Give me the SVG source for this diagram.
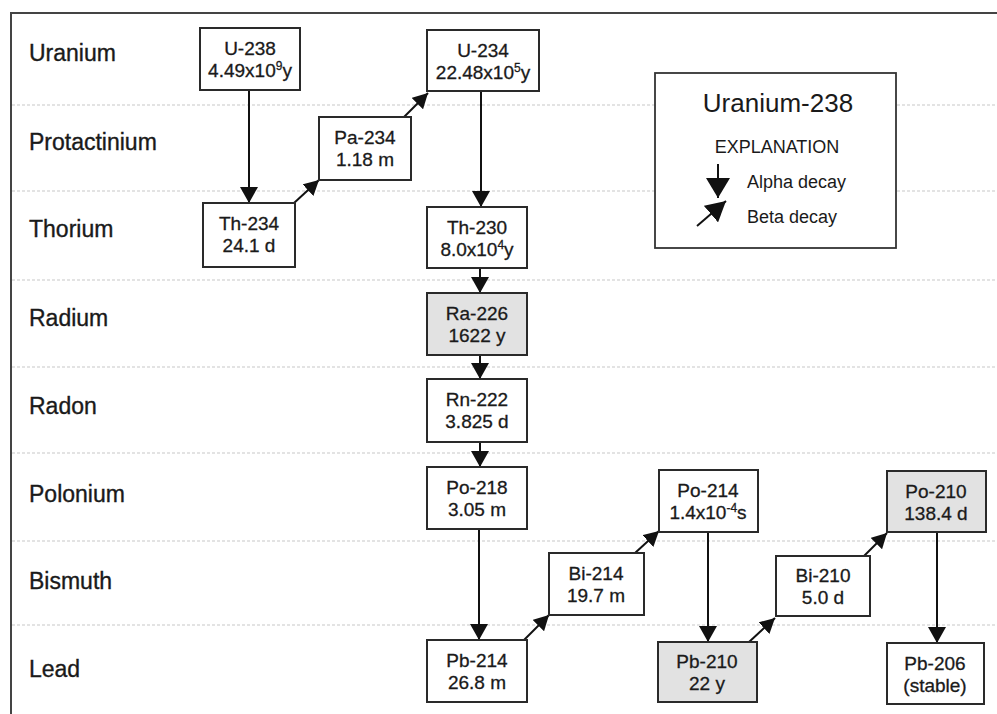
<svg xmlns="http://www.w3.org/2000/svg" width="997" height="714" viewBox="0 0 997 714">
<defs>
<style>
.row{font-family:"Liberation Sans",Arial,sans-serif;font-size:23px;fill:#1a1a1a;stroke:#1a1a1a;stroke-width:0.35}
.box{fill:#fff;stroke:#2a2a2a;stroke-width:2}
.gray{fill:#e2e2e2}
.t{font-family:"Liberation Sans",Arial,sans-serif;font-size:19px;fill:#1a1a1a;stroke:#1a1a1a;stroke-width:0.3;text-anchor:middle}
.sup{font-size:12px}
.sep{stroke:#c8c8c8;stroke-width:1.2;stroke-dasharray:3 2}
.alpha{stroke:#111;stroke-width:2;fill:none;marker-end:url(#ah)}
.beta{stroke:#111;stroke-width:2;fill:none;marker-end:url(#bh)}
.leg{font-family:"Liberation Sans",Arial,sans-serif;fill:#1a1a1a}
</style>
<marker id="ah" markerUnits="userSpaceOnUse" markerWidth="18" markerHeight="18" refX="16" refY="9" orient="auto">
<path d="M0,0 L16,9 L0,18 z" fill="#111"/>
</marker>
<marker id="bh" markerUnits="userSpaceOnUse" markerWidth="16" markerHeight="16" refX="15" refY="8" orient="auto">
<path d="M0,0 L15,8 L0,16 z" fill="#111"/>
</marker>
<marker id="lah" markerUnits="userSpaceOnUse" markerWidth="22" markerHeight="24" refX="20" refY="12" orient="auto">
<path d="M0,0 L20,12 L0,24 z" fill="#111"/>
</marker>
<marker id="lbh" markerUnits="userSpaceOnUse" markerWidth="22" markerHeight="22" refX="20" refY="11" orient="auto">
<path d="M0,0 L20,11 L0,22 z" fill="#111"/>
</marker>
</defs>
<rect x="0" y="0" width="997" height="714" fill="#fff"/>
<g id="frame">
<line x1="11" y1="13" x2="997" y2="13" stroke="#444" stroke-width="2"/>
<line x1="11" y1="12" x2="11" y2="714" stroke="#444" stroke-width="2"/>
</g>
<g id="separators">
<line class="sep" x1="12" y1="105" x2="997" y2="105"/>
<line class="sep" x1="12" y1="191" x2="997" y2="191"/>
<line class="sep" x1="12" y1="280" x2="997" y2="280"/>
<line class="sep" x1="12" y1="367" x2="997" y2="367"/>
<line class="sep" x1="12" y1="453" x2="997" y2="453"/>
<line class="sep" x1="12" y1="541" x2="997" y2="541"/>
<line class="sep" x1="12" y1="625" x2="997" y2="625"/>
</g>
<g id="row-labels">
<text class="row" x="29" y="61">Uranium</text>
<text class="row" x="29" y="150">Protactinium</text>
<text class="row" x="29" y="237">Thorium</text>
<text class="row" x="29" y="326">Radium</text>
<text class="row" x="29" y="414">Radon</text>
<text class="row" x="29" y="502">Polonium</text>
<text class="row" x="29" y="589">Bismuth</text>
<text class="row" x="29" y="677">Lead</text>
</g>
<g id="connectors">
<line class="alpha" x1="249" y1="91" x2="249" y2="203"/>
<line class="alpha" x1="481" y1="92" x2="481" y2="207"/>
<line class="alpha" x1="480" y1="269" x2="480" y2="293"/>
<line class="alpha" x1="480" y1="356" x2="480" y2="379"/>
<line class="alpha" x1="480" y1="443" x2="480" y2="467"/>
<line class="alpha" x1="479" y1="530" x2="479" y2="640"/>
<line class="alpha" x1="708" y1="533" x2="708" y2="642"/>
<line class="alpha" x1="937" y1="533" x2="937" y2="643"/>
<line class="beta" x1="294" y1="203" x2="319" y2="180"/>
<line class="beta" x1="404" y1="117" x2="428" y2="93"/>
<line class="beta" x1="524" y1="640" x2="549" y2="615"/>
<line class="beta" x1="635" y1="553" x2="659" y2="531"/>
<line class="beta" x1="749" y1="642" x2="775" y2="618"/>
<line class="beta" x1="864" y1="556" x2="887" y2="533"/>
</g>
<g id="U-238">
<rect class="box" x="200" y="28" width="100" height="62"/>
<text class="t" x="250" y="55">U-238</text>
<text class="t" x="250" y="77">4.49x10<tspan class="sup" dy="-7">9</tspan><tspan dy="7">y</tspan></text>
</g>
<g id="Pa-234">
<rect class="box" x="319" y="117" width="92" height="63"/>
<text class="t" x="365" y="144">Pa-234</text>
<text class="t" x="365" y="166">1.18 m</text>
</g>
<g id="Th-234">
<rect class="box" x="203" y="203" width="92" height="64"/>
<text class="t" x="249" y="230">Th-234</text>
<text class="t" x="249" y="252">24.1 d</text>
</g>
<g id="U-234">
<rect class="box" x="427" y="30" width="112" height="61"/>
<text class="t" x="483" y="57">U-234</text>
<text class="t" x="483" y="79">22.48x10<tspan class="sup" dy="-7">5</tspan><tspan dy="7">y</tspan></text>
</g>
<g id="Th-230">
<rect class="box" x="427" y="207" width="100" height="61"/>
<text class="t" x="477" y="234">Th-230</text>
<text class="t" x="477" y="256">8.0x10<tspan class="sup" dy="-7">4</tspan><tspan dy="7">y</tspan></text>
</g>
<g id="Ra-226">
<rect class="box gray" x="427" y="293" width="100" height="62"/>
<text class="t" x="477" y="320">Ra-226</text>
<text class="t" x="477" y="342">1622 y</text>
</g>
<g id="Rn-222">
<rect class="box" x="427" y="379" width="100" height="63"/>
<text class="t" x="477" y="406">Rn-222</text>
<text class="t" x="477" y="428">3.825 d</text>
</g>
<g id="Po-218">
<rect class="box" x="427" y="467" width="100" height="62"/>
<text class="t" x="477" y="494">Po-218</text>
<text class="t" x="477" y="516">3.05 m</text>
</g>
<g id="Pb-214">
<rect class="box" x="427" y="640" width="100" height="62"/>
<text class="t" x="477" y="667">Pb-214</text>
<text class="t" x="477" y="689">26.8 m</text>
</g>
<g id="Bi-214">
<rect class="box" x="549" y="553" width="95" height="62"/>
<text class="t" x="596" y="580">Bi-214</text>
<text class="t" x="596" y="602">19.7 m</text>
</g>
<g id="Po-214">
<rect class="box" x="659" y="470" width="99" height="62"/>
<text class="t" x="708" y="497">Po-214</text>
<text class="t" x="708" y="519">1.4x10<tspan class="sup" dy="-7">-4</tspan><tspan dy="7">s</tspan></text>
</g>
<g id="Pb-210">
<rect class="box gray" x="658" y="642" width="99" height="60"/>
<text class="t" x="707" y="668">Pb-210</text>
<text class="t" x="707" y="690">22 y</text>
</g>
<g id="Bi-210">
<rect class="box" x="776" y="556" width="94" height="60"/>
<text class="t" x="823" y="582">Bi-210</text>
<text class="t" x="823" y="604">5.0 d</text>
</g>
<g id="Po-210">
<rect class="box gray" x="887" y="471" width="99" height="61"/>
<text class="t" x="936" y="498">Po-210</text>
<text class="t" x="936" y="520">138.4 d</text>
</g>
<g id="Pb-206">
<rect class="box" x="887" y="643" width="97" height="61"/>
<text class="t" x="935" y="670">Pb-206</text>
<text class="t" x="935" y="692">(stable)</text>
</g>
<g id="legend">
<rect x="655" y="73" width="241" height="175" fill="#fff" stroke="#333" stroke-width="1.8"/>
<text class="leg" x="778" y="112" font-size="26" text-anchor="middle">Uranium-238</text>
<text class="leg" x="777" y="153" font-size="18" text-anchor="middle">EXPLANATION</text>
<line x1="718" y1="164" x2="718" y2="198" stroke="#111" stroke-width="2" marker-end="url(#lah)"/>
<text class="leg" x="747" y="188" font-size="18">Alpha decay</text>
<line x1="697" y1="226" x2="726" y2="201" stroke="#111" stroke-width="2" marker-end="url(#lbh)"/>
<text class="leg" x="747" y="223" font-size="18">Beta decay</text>
</g>
</svg>
